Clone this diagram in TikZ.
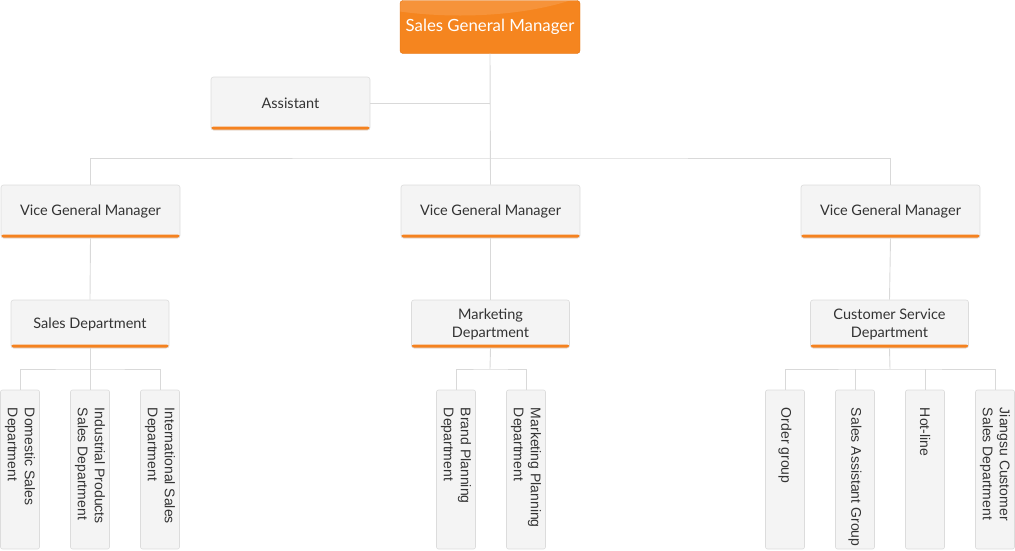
\documentclass[tikz,border=0pt]{standalone}
\usepackage{fontspec}
\setmainfont{Lato}
\newfontfamily\leaffont{Liberation Sans}
\usepackage{xcolor}
\usepackage{tikz}
\usetikzlibrary{positioning}

\definecolor{sgmorange}{HTML}{F5851F}
\definecolor{sgmedge}{HTML}{E0710F}
\definecolor{cardfill}{HTML}{F4F4F4}
\definecolor{cardedge}{HTML}{DCDCDC}
\definecolor{barorange}{HTML}{F5821F}
\definecolor{linkgray}{HTML}{D9D9D9}
\definecolor{textgray}{HTML}{333333}

\tikzset{
  topbox/.style={rectangle, rounded corners=3pt, fill=sgmorange, draw=sgmedge,
    text=white, font=\fontsize{16.8}{20}\selectfont, minimum width=180pt, minimum height=53pt,
    path picture={\fill[white, opacity=0.12] ([xshift=-30pt,yshift=40pt]path picture bounding box.north)
      ellipse (160pt and 55pt);}},
  card/.style={rectangle, rounded corners=2.5pt, fill=cardfill, draw=cardedge, line width=0.6pt,
    text=textgray, font=\fontsize{14.5}{18}\selectfont, align=center,
    path picture={\fill[barorange] (path picture bounding box.south west)
      rectangle ([yshift=3.5pt]path picture bounding box.south east);}},
  vgmbox/.style={card, minimum width=179pt, minimum height=53pt},
  deptbox/.style={card, minimum width=158pt, minimum height=48pt},
  leaf/.style={rectangle, rounded corners=2pt, fill=cardfill, draw=cardedge, line width=0.6pt,
    minimum width=39pt, minimum height=159pt},
  leaftext/.style={rotate=-90, anchor=west, align=left, inner sep=0pt, text=textgray,
    font=\leaffont\fontsize{14}{17}\selectfont},
  link/.style={draw=linkgray, line width=0.9pt}
}

\begin{document}
\begin{tikzpicture}[x=1pt, y=-1pt]
\useasboundingbox (0,0) rectangle (1015,550);

% top levels
\node[topbox] (sgm) at (490,27) {Sales General Manager};
\node[card, minimum width=159pt, minimum height=53pt] (asst) at (290.5,103.5) {Assistant};
\node[vgmbox] (vgm1) at (90.5,211.5) {Vice General Manager};
\node[vgmbox] (vgm2) at (490.5,211.5) {Vice General Manager};
\node[vgmbox] (vgm3) at (890.5,211.5) {Vice General Manager};

% departments
\node[deptbox] (sales) at (90,324) {Sales Department};
\node[deptbox] (mkt) at (490.5,324) {Marketing\\Department};
\node[deptbox] (cust) at (889.5,324) {Customer Service\\Department};

% leaf boxes
\node[leaf] (dom) at (20,469.5) {};
\node[leaf] (ind) at (90,469.5) {};
\node[leaf] (intl) at (160,469.5) {};
\node[leaf] (brand) at (456,469.5) {};
\node[leaf] (mplan) at (526,469.5) {};
\node[leaf] (order) at (785,469.5) {};
\node[leaf] (sassist) at (855,469.5) {};
\node[leaf] (hotline) at (925,469.5) {};
\node[leaf] (jiangsu) at (995,469.5) {};

\node[leaftext] (domt) at ([yshift=-18pt]dom.north) {Domestic Sales\\Department};
\node[leaftext] (indt) at ([yshift=-18pt]ind.north) {Industrial Products\\Sales Department};
\node[leaftext] (intlt) at ([yshift=-18pt]intl.north) {International Sales\\Department};
\node[leaftext] (brandt) at ([yshift=-18pt]brand.north) {Brand Planning\\Department};
\node[leaftext] (mplant) at ([yshift=-18pt]mplan.north) {Marketing Planning\\Department};
\node[leaftext] (ordert) at ([yshift=-18pt]order.north) {Order group};
\node[leaftext] (sassistt) at ([yshift=-18pt]sassist.north) {Sales Assistant Group};
\node[leaftext] (hotlinet) at ([yshift=-18pt]hotline.north) {Hot-line};
\node[leaftext] (jiangsut) at ([yshift=-18pt]jiangsu.north) {Jiangsu Customer\\Sales Department};

% connectors
\coordinate (vbus) at (490,158);
\coordinate (sbus) at (90,369);
\coordinate (mbus) at (490,369);
\coordinate (cbus) at (890,369);

\draw[link] (sgm.south) -- (vgm2.north);
\draw[link] (asst.east) -- (asst.east -| sgm.south);
\draw[link] (vgm1.north) |- (vbus) -| (vgm3.north);

\draw[link] (vgm1.south) -- (sales.north);
\draw[link] (vgm2.south) -- (mkt.north);
\draw[link] (vgm3.south) -- (cust.north);

\draw[link] (sales.south) -- (ind.north);
\draw[link] (dom.north) |- (sbus) -| (intl.north);
\draw[link] (mkt.south) -- (mbus);
\draw[link] (brand.north) |- (mbus) -| (mplan.north);
\draw[link] (cust.south) -- (cbus);
\draw[link] (order.north) |- (cbus) -| (jiangsu.north);
\draw[link] (sassist.north) -- (sassist.north |- cbus);
\draw[link] (hotline.north) -- (hotline.north |- cbus);
\end{tikzpicture}
\end{document}
